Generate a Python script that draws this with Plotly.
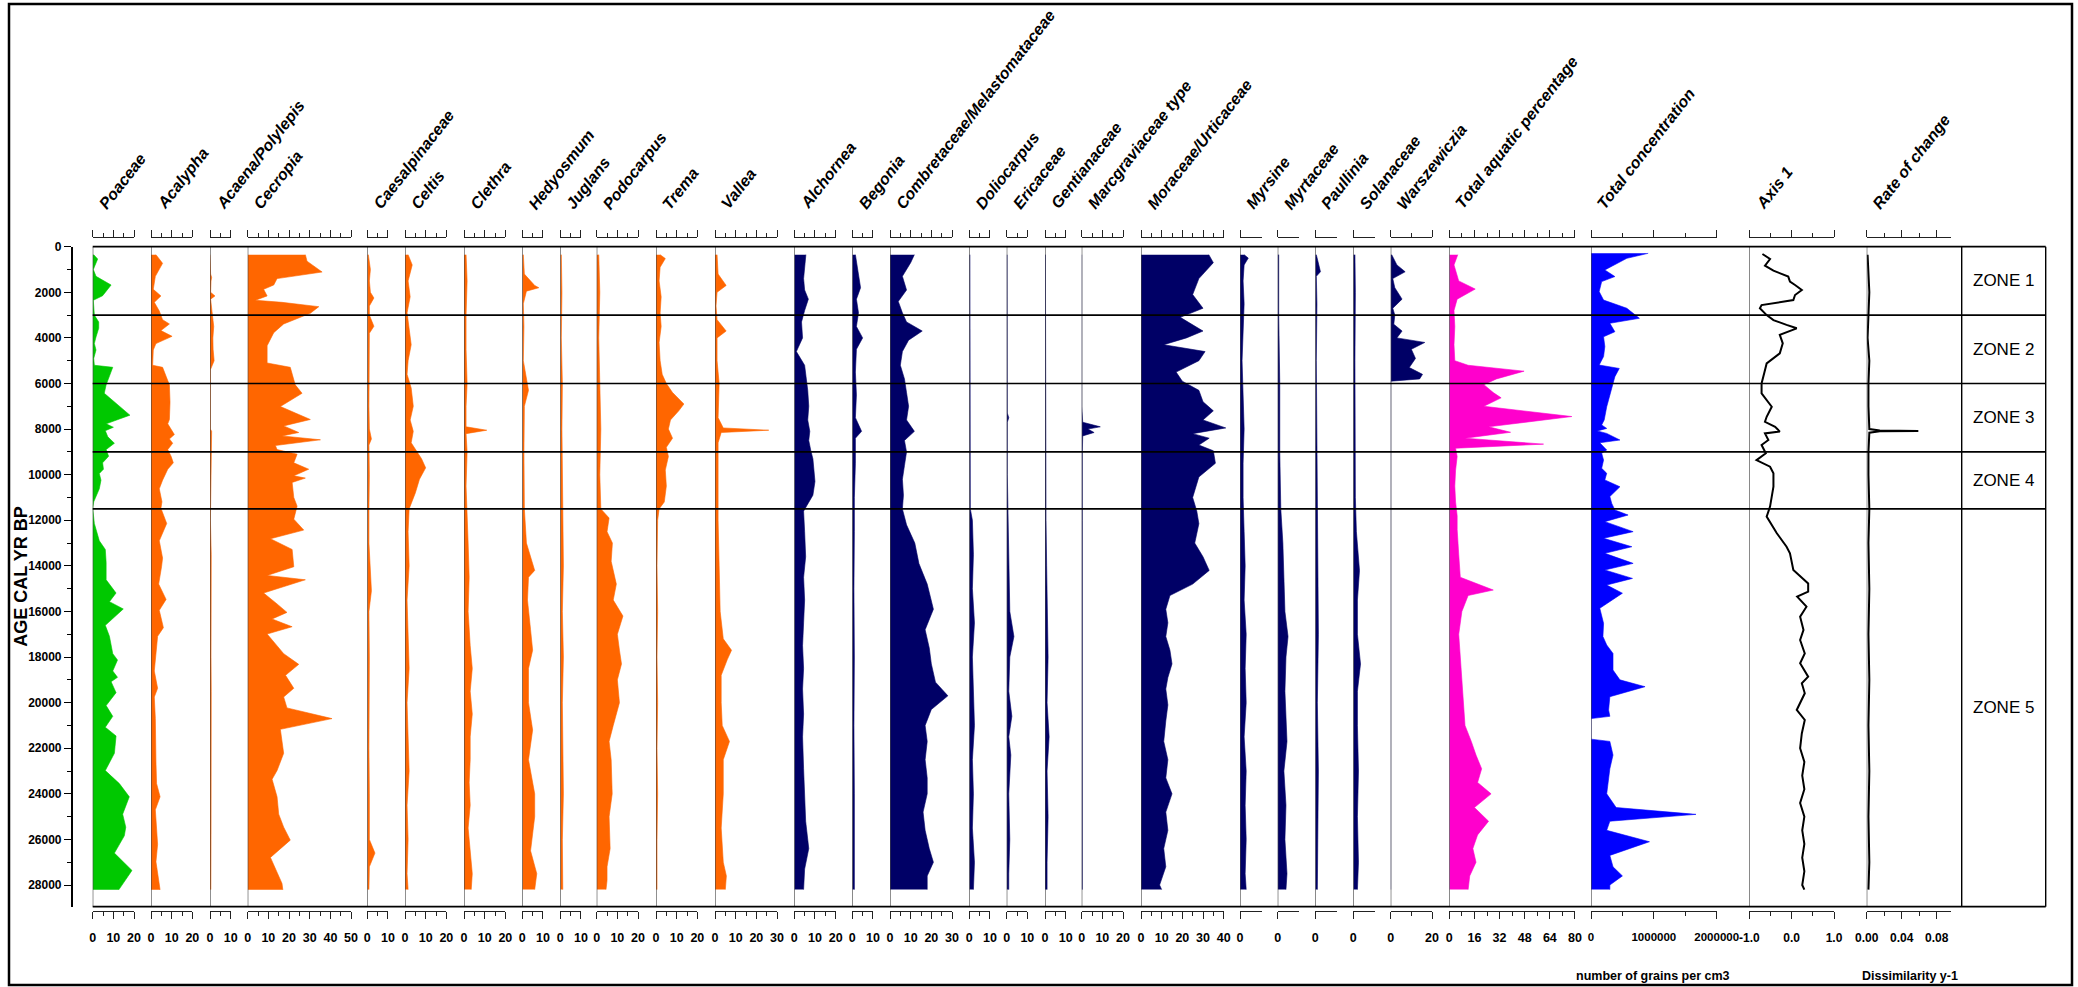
import plotly.graph_objects as go

# ---------------- data (ages in cal yr BP, pollen in %) ----------------
poaceae_age = [350, 540, 1000, 1300, 1680, 2150, 2350, 2600, 3000, 3300, 3580, 3960, 4250, 4530, 4900, 5200, 5290, 6060, 6430, 7390,
               7770, 7920, 8070, 8340, 8620, 8900, 9190, 9480, 9760, 9950, 10240, 10620, 11190, 11470, 12140, 12900, 13280, 13850, 14610, 15190,
               15570, 15890, 16610, 17090, 17850, 18130, 18610, 18890, 19080, 19560, 20130, 20600, 21080, 21460, 22220, 22980, 23550, 24130, 24890, 25460,
               25840, 26600, 27360, 28210]
poaceae = [0.5, 2.4, 0.3, 1.6, 8.9, 4.8, 0.3, 0.5, 0.8, 2.9, 2.9, 1.6, 0.8, 1.6, 0.5, 0.8, 9.7, 6.5, 5.6, 18,
           6.5, 10, 6.1, 7.3, 10.5, 6.5, 7.7, 4.8, 5.2, 3.2, 4, 3.2, 0.5, 0, 0.8, 3.2, 6.1, 6.5, 6.5, 11.3,
           8.1, 14.8, 6.1, 8.1, 9.7, 12, 9.7, 12, 8.9, 11.3, 6.5, 9.7, 6.1, 11.3, 10.5, 6.1, 12.9, 17.7, 14.5, 16,
           15.3, 10.5, 19, 12.6]

acalypha_age = [350, 730, 1300, 1870, 2160, 2440, 2820, 3200, 3390, 3680, 3930, 4250, 4530, 5200, 5290, 6060, 6820, 7580, 7770, 8240,
                8430, 8620, 8900, 9190, 9480, 9760, 10240, 10620, 11190, 11470, 12140, 12900, 13660, 14040, 14800, 15470, 15950, 16710, 17090, 17850,
                18610, 19370, 19750, 20700, 21650, 22600, 23550, 24130, 24700, 25460, 26220, 26980, 27740, 28210]
acalypha = [2.4, 5.6, 2.1, 1.1, 4.8, 1.6, 4, 5.6, 8.9, 4.8, 10.2, 2.4, 1.1, 0.8, 5.6, 8.9, 9.2, 8.9, 8.1, 11.3,
            8.9, 10.5, 8.1, 9.7, 10.8, 8.1, 5.6, 4, 5.3, 4.8, 7.6, 4, 5.6, 5.1, 3.7, 7.3, 4, 6, 3.2, 2.4,
            1.6, 3.2, 1.6, 2.1, 2.1, 2.4, 2.7, 4.4, 2.1, 2.7, 3.2, 2.4, 3.7, 4.4]

acaena_age = [350, 1200, 1350, 1500, 2000, 2160, 2300, 3200, 3500, 4000, 4500, 5000, 5200, 5400, 8000, 8100, 12000, 13500, 18000, 19500, 26000, 28200]
acaena = [0, 0.3, 0.8, 0.5, 0.3, 2.4, 0.3, 1.5, 1.8, 1.4, 1.5, 2.0, 1.0, 0.2, 0.2, 0.8, 0.2, 0.6, 0.5, 0.6, 0.5, 0.4]

cecropia_age = [350, 635, 1110, 1400, 1680, 1870, 2160, 2350, 2440, 2630, 2920, 3390, 3770, 4340, 5100, 5290, 6060, 6430, 7010, 7580,
                7860, 8150, 8300, 8470, 8720, 8900, 9100, 9480, 9760, 10050, 10150, 10340, 11000, 11380, 11950, 12430, 12810, 13280, 14040, 14420,
                14610, 15190, 15670, 16040, 16330, 16670, 16990, 17560, 17850, 18320, 18800, 19370, 19750, 20230, 20700, 21170, 21650, 22220, 22980, 23360,
                24130, 24890, 25460, 26030, 26790, 27930, 28210]
cecropia = [27.9, 28.7, 36, 14.2, 12.6, 7.7, 9.4, 3.7, 16.6, 34.4, 30.3, 17.4, 12.6, 9.4, 9.4, 20.6, 23, 26.3, 15.8, 30.3,
            17.4, 24.7, 16.6, 35.2, 13.4, 14.2, 23.9, 22.3, 29.5, 22.3, 27.9, 21.5, 22.3, 23.9, 22.3, 27.1, 11, 21.5, 22.3, 9.4,
            27.9, 7.7, 14.2, 19, 11.8, 21.5, 9.4, 15, 17.4, 24.7, 18.3, 22.3, 17.4, 19, 40.8, 15.8, 16.6, 17.4, 14.2, 11.8,
            14.2, 15, 17.4, 20.6, 11, 16.6, 17]

caesalpinaceae_age = [350, 1000, 1500, 2000, 2250, 2600, 3000, 3490, 3800, 5000, 6000, 7000, 8000, 8430, 8700, 10000, 11500, 13000, 15090, 16000,
                      18000, 20000, 22000, 24000, 26000, 26600, 27200, 28200]
caesalpinaceae = [0.5, 1.5, 1, 1.5, 3.2, 1, 1, 3.2, 1, 0.8, 0.8, 0.8, 1, 2, 0.8, 1, 0.8, 0.8, 2, 0.8,
                  1, 0.8, 0.8, 1, 1, 3.7, 1, 0.8]

celtis_age = [350, 800, 1500, 2200, 2900, 3500, 4300, 5000, 5600, 6200, 7000, 7600, 8100, 8600, 9000, 9300, 9700, 10200, 10800, 11500,
              12500, 14000, 15500, 17000, 18500, 20000, 21500, 23000, 24500, 26000, 27500, 28200]
celtis = [1.5, 3.5, 1.5, 2.5, 1, 2, 3, 1.5, 1, 3, 4, 2.5, 4, 3, 6, 8, 10, 7, 5, 2,
          1.5, 2, 1, 1.5, 2, 1, 1.5, 2, 1, 1.5, 1, 1.5]

clethra_age = [350, 1500, 3000, 4500, 6000, 7000, 7900, 8050, 8200, 9000, 10500, 11500, 13000, 14500, 16000, 17500, 18500, 19500, 20500, 21500,
               22500, 23500, 24500, 25500, 26500, 27500, 28200]
clethra = [1, 1.5, 1, 1, 1.5, 1, 1, 11, 1, 1.5, 1, 1.5, 2, 2.5, 2, 3, 4, 3, 4, 3,
           3, 2.5, 3, 2, 3, 4, 3.5]

hedyosmum_age = [350, 1200, 1700, 1800, 1950, 2500, 3500, 5000, 6300, 7000, 9000, 11500, 13000, 14200, 14500, 15500, 16800, 17700, 18500, 20000,
                 21200, 22500, 24000, 25000, 26500, 27500, 28200]
hedyosmum = [0.5, 1, 6, 8, 2, 0.5, 0.8, 0.5, 3, 1, 0.8, 1, 2, 6, 3, 2.5, 4, 5, 3, 3,
             5, 3, 6, 6, 4, 7, 6]

juglans_age = [350, 2000, 4000, 6000, 8000, 10000, 12000, 14000, 16000, 18000, 20000, 22000, 24000, 26000, 28200]
juglans = [0.5, 0.8, 0.5, 1, 0.8, 1, 1.2, 1.5, 1, 1.5, 1, 1.2, 1.5, 1, 1.2]

podocarpus_age = [350, 2000, 4000, 6000, 8000, 10000, 11500, 11900, 12500, 13000, 13800, 14800, 15500, 16200, 17000, 17700, 18300, 19000, 20000, 21000,
                  21700, 22500, 24000, 25000, 26400, 27200, 27800, 28200]
podocarpus = [1, 1.5, 1, 1.5, 2, 1.5, 2, 6, 5, 7.6, 7, 9.5, 8, 12.7, 10, 11, 12, 10, 11, 8,
              6, 7, 7.5, 6, 6.5, 5, 5, 4.5]

trema_age = [350, 520, 900, 1500, 2200, 2900, 3500, 4200, 5000, 5600, 6000, 6400, 6900, 7200, 7600, 8000, 8400, 8800, 9200, 9800,
             10500, 11200, 11500, 12000, 14000, 16000, 18000, 20000, 22000, 24000, 26000, 28200]
trema = [2, 4.5, 2, 1.5, 2.5, 2, 2.5, 1.5, 2, 3, 5, 8, 13.5, 11, 7, 6, 8, 5, 6, 4.5,
         5, 4, 1.5, 0.8, 0.5, 0.8, 0.5, 0.8, 0.5, 0.8, 0.5, 0.5]

vallea_age = [350, 1200, 1700, 2000, 2600, 3200, 3700, 4000, 5000, 6000, 7500, 7950, 8050, 8150, 8600, 10000, 12000, 14000, 16000, 17200,
              17700, 18100, 18800, 20000, 21000, 21700, 22500, 24000, 25500, 27000, 27600, 28200]
vallea = [1, 1.5, 5.4, 1, 0.5, 1, 5.4, 1, 1, 2, 1.5, 4, 26, 3, 1.5, 1.5, 1.5, 2, 2.5, 4,
          8, 6, 3, 3, 3.5, 7, 4, 4, 3, 4, 5.5, 5]

alchornea_age = [350, 900, 1400, 1900, 2300, 2800, 3300, 4000, 4600, 5200, 5800, 6300, 7000, 7600, 8100, 8500, 8950, 9300, 9800, 10300,
                 10900, 11600, 12500, 13600, 14500, 15500, 16500, 17500, 18500, 19400, 20500, 21500, 22900, 24000, 25200, 26400, 27300, 28200]
alchornea = [5.6, 5, 4.5, 5, 6.8, 5, 3.5, 4, 1, 5, 6, 6.5, 7, 6.5, 7.5, 7, 8, 9, 9.5, 10,
             9, 4.5, 5, 5.5, 4.5, 5, 4.5, 4, 4.5, 4, 4.5, 4, 4.5, 5, 5.5, 7, 5, 4.5]

begonia_age = [350, 1200, 1800, 2300, 2900, 3500, 4000, 4500, 5500, 6500, 7500, 8100, 8400, 9500, 11000, 12500, 15000, 18000, 21000, 24000,
               27000, 28200]
begonia = [1.5, 3, 4, 2, 3, 2, 5, 2, 1.5, 2, 1.5, 4.5, 1.5, 1.5, 1, 1, 0.8, 1, 0.8, 1,
           0.8, 1]

combretaceae_age = [350, 700, 1300, 1900, 2400, 2900, 3300, 3700, 4100, 4600, 5200, 5800, 6400, 7000, 7600, 8100, 8500, 9000, 9600, 10200,
                    10900, 11500, 12200, 13000, 13900, 14800, 15900, 16800, 17600, 18300, 19100, 19700, 20300, 21000, 21700, 22500, 23300, 24000, 24800, 25600,
                    26400, 27000, 27600, 28200]
combretaceae = [11.8, 10, 6, 8, 4, 6, 8, 15.6, 9, 6, 5, 7, 8, 9, 8, 11.8, 7, 8, 7, 6,
                6.5, 6, 8, 12, 14, 18, 21, 17, 19, 20, 22, 28, 20, 17, 18, 17, 18, 18, 16, 17,
                19, 21, 18, 18]

doliocarpus_age = [350, 3000, 6000, 9000, 11500, 12000, 13500, 15000, 16500, 18000, 19500, 21000, 22500, 24000, 25500, 27000, 28200]
doliocarpus = [0.3, 0.3, 0.3, 0.3, 0.5, 1.5, 2, 1.5, 2.5, 1.5, 2, 2.5, 1.5, 2, 1.5, 2.5, 2]

ericaceae_age = [350, 3000, 6000, 7300, 7500, 7700, 10000, 12000, 14000, 16000, 17100, 18000, 19500, 20600, 21500, 22300, 24000, 26000, 27500, 28200]
ericaceae = [0.2, 0.2, 0.3, 0.3, 1, 0.3, 0.3, 0.8, 1, 1.5, 3.5, 1.5, 1, 2.5, 1, 2, 1, 1.5, 1, 1]

gentianaceae_age = [350, 3000, 6000, 9000, 12000, 14000, 16000, 18000, 20000, 21500, 23000, 25000, 27000, 28200]
gentianaceae = [0.2, 0.2, 0.3, 0.3, 0.5, 0.8, 1, 1.5, 1, 2, 1, 1.5, 1, 1]

marcgraviaceae_age = [350, 7000, 7700, 7900, 8000, 8150, 8300, 9000, 12000, 18000, 24000, 28200]
marcgraviaceae = [0, 0, 0.5, 9, 3, 6, 0.5, 0.3, 0.3, 0.3, 0.3, 0.3]

moraceae_age = [350, 700, 1400, 2100, 2700, 3100, 3700, 4000, 4300, 4600, 5000, 5500, 5900, 6300, 6800, 7200, 7600, 7950, 8200, 8400,
                8700, 8950, 9500, 10100, 11000, 11600, 12150, 13000, 13600, 14200, 14800, 15300, 15900, 16500, 17100, 17700, 18300, 18900, 19400, 20100,
                20800, 21700, 22500, 23300, 24000, 24800, 25600, 26400, 27200, 28000, 28200]
moraceae = [32.8, 35, 28, 25, 30, 19, 30, 22, 11, 31, 28, 17, 20, 28, 30, 35, 30, 41, 25, 33,
            28, 35, 36, 28, 25, 27, 28, 26, 30, 33, 25, 14, 12, 13, 12, 14, 15, 13, 12, 13,
            12, 11, 13, 12, 15, 12, 13, 11, 12, 9, 10]

myrsine_age = [350, 500, 800, 1500, 2500, 3500, 5000, 6500, 8000, 9500, 11000, 12500, 14000, 15500, 17000, 18500, 20000, 21500, 23000, 24500,
               26000, 27500, 28200]
myrsine = [2, 4, 2, 1.5, 2, 1.5, 1, 1.5, 2, 1.5, 1.5, 2, 2.5, 2, 3, 2.5, 3, 2, 3, 2.5,
           3, 2.5, 3]

myrtaceae_age = [350, 3000, 6000, 9000, 11500, 13000, 14500, 16000, 17100, 18000, 19500, 20500, 21700, 23000, 24500, 26000, 27500, 28200]
myrtaceae = [0.5, 0.5, 1, 1, 1.5, 2.5, 3, 3.5, 5, 4, 3.5, 4, 4.5, 3, 4, 3.5, 4.5, 4]

paullinia_age = [350, 1100, 1300, 2500, 5000, 8000, 11000, 14000, 17000, 20000, 23000, 26000, 28200]
paullinia = [0.5, 2.5, 0.5, 0.8, 0.5, 0.8, 0.8, 1.2, 1.5, 1, 1.5, 1.2, 1]

solanaceae_age = [350, 2000, 5000, 8000, 11000, 12500, 14200, 15500, 17000, 18300, 19500, 21000, 23000, 25000, 27000, 28200]
solanaceae = [0.8, 1, 0.8, 1, 1, 1.5, 3, 2, 2, 3.5, 2, 2, 2.5, 2, 2.5, 2]

warszewiczia_age = [350, 800, 1100, 1400, 1800, 2300, 2700, 3000, 3400, 3700, 4000, 4200, 4500, 4900, 5300, 5600, 5800, 5900, 6500, 28200]
warszewiczia = [0.5, 3, 7, 1, 2, 5.5, 1, 2, 1.5, 5.5, 3, 16.5, 10, 12, 9, 15.4, 14, 0, 0, 0]

aquatic_age = [350, 800, 1500, 1860, 2300, 2800, 3500, 4300, 5000, 5200, 5460, 5800, 6050, 6400, 6630, 7000, 7450, 7900, 8140, 8400,
               8660, 8840, 9200, 9800, 10500, 11200, 11800, 12400, 13500, 14500, 15060, 15300, 16000, 17000, 18000, 19000, 20000, 21000, 21700, 22300,
               22900, 23500, 24000, 24600, 25200, 25800, 26400, 27000, 27600, 28200]
aquatic = [5.4, 3, 6, 16.5, 5, 3, 3.5, 3, 3.5, 12, 47.6, 30, 22, 28, 33, 22, 78, 25, 39, 10,
           60, 4, 5, 4, 3.5, 4, 5, 5, 6, 7, 28, 12, 8, 6, 7, 8, 9, 10, 14, 17,
           20.6, 18, 26.6, 16, 25, 18, 15, 17, 13, 12]

concentration_age = [290, 510, 1020, 1310, 1530, 1970, 2340, 2700, 3140, 3360, 3730, 3950, 4380, 4820, 5190, 5340, 5700, 6000, 6430, 7020,
                     7600, 7820, 7970, 8080, 8190, 8480, 8600, 8920, 9060, 9360, 9720, 9940, 10230, 10530, 10960, 11260, 11550, 11770, 12060, 12500,
                     12790, 13160, 13450, 13890, 14180, 14550, 14840, 15200, 15860, 16520, 17100, 17470, 17840, 18570, 19000, 19300, 19740, 20320, 20600, 20700,
                     21600, 21700, 22300, 22900, 24000, 24600, 24900, 25200, 25600, 26100, 26700, 27200, 27600, 28000, 28200]
concentration = [910000, 570000, 220000, 380000, 170000, 130000, 200000, 570000, 770000, 300000, 380000, 200000, 220000, 200000, 130000, 450000, 380000, 350000, 300000, 250000,
                 210000, 170000, 250000, 100000, 250000, 460000, 140000, 250000, 170000, 200000, 170000, 250000, 220000, 460000, 300000, 330000, 380000, 590000, 220000, 670000,
                 200000, 650000, 220000, 670000, 220000, 660000, 250000, 500000, 140000, 200000, 190000, 250000, 350000, 350000, 460000, 860000, 300000, 280000, 300000, 0,
                 0, 300000, 350000, 300000, 250000, 400000, 1670000, 300000, 250000, 930000, 300000, 350000, 500000, 300000, 300000]

axis1_age = [320, 540, 830, 1050, 1310, 1530, 1680, 1900, 2120, 2340, 2560, 2700, 3000, 3220, 3430, 3580, 3870, 4240, 4680, 5120,
             5560, 6000, 6430, 7020, 7460, 7680, 7900, 8110, 8190, 8480, 8700, 9060, 9360, 9650, 9940, 10530, 11400, 11840, 12570, 13160,
             13450, 14180, 14770, 15130, 15350, 15790, 16230, 16810, 17250, 17840, 18270, 18860, 19150, 19590, 20320, 20760, 21350, 22000, 22600, 23200,
             23800, 24400, 25000, 25600, 26200, 26800, 27400, 28000, 28200]
axis1 = [-0.69, -0.51, -0.63, -0.43, -0.08, -0.04, 0.08, 0.24, 0.08, 0.04, -0.71, -0.75, -0.59, -0.43, -0.12, 0.12, -0.28, -0.21, -0.28, -0.59,
         -0.65, -0.71, -0.71, -0.47, -0.59, -0.63, -0.39, -0.28, -0.63, -0.55, -0.71, -0.61, -0.83, -0.51, -0.43, -0.43, -0.51, -0.59, -0.35, -0.12,
         -0.04, 0.04, 0.39, 0.39, 0.13, 0.35, 0.2, 0.28, 0.2, 0.31, 0.2, 0.39, 0.24, 0.31, 0.12, 0.31, 0.24, 0.2, 0.3, 0.25,
         0.3, 0.2, 0.3, 0.25, 0.3, 0.25, 0.3, 0.25, 0.3]

roc_age = [350, 1000, 2000, 3000, 4000, 5000, 6000, 7000, 8000, 8060, 8080, 8100, 8160, 9000, 10000, 11500, 13000, 15000, 17000, 19000,
           21000, 23000, 25000, 27000, 28200]
roc = [0.001, 0.002, 0.003, 0.002, 0.001, 0.003, 0.002, 0.002, 0.003, 0.015, 0.059, 0.015, 0.003, 0.002, 0.002, 0.003, 0.002, 0.003, 0.002, 0.003,
       0.002, 0.003, 0.002, 0.003, 0.002]

zone_bounds = [3000, 6000, 9000, 11500]
zone_names = ["ZONE 1", "ZONE 2", "ZONE 3", "ZONE 4", "ZONE 5"]

# ---------------- page geometry (pixels) ----------------
W, H = 2078, 987
def fx(p):
    return p / W
def fy(p):
    return 1 - p / H

PLOT_TOP, PLOT_BOT = 246.7, 906.7
BR_TOP, BR_BOT = 238.3, 911.0
AGE_MAX = 28950
PLOT_LEFT, PLOT_RIGHT, ZONE_LEFT = 92.7, 2045.7, 1961.7
PCT = 2.067                      # px per percent

GREEN, ORANGE, NAVY, PINK, BLUE = "#00c800", "#ff6600", "#000066", "#ff00cc", "#0000ff"
SANS = "Liberation Sans, Arial, sans-serif"


def pct_ticks(top):
    major = list(range(0, top + 1, 10))
    minor = list(range(5, top, 10))
    return major, [str(v) for v in major], minor


cols = []
def add_pct(label, left, colour, ages, vals, top):
    mj, tt, mn = pct_ticks(top)
    cols.append(dict(label=label, left=left, colour=colour, ages=ages, vals=vals, kind="fill",
                     scale=PCT, x0=0, bend=top, major=mj, text=tt, minor=mn, fs=12.5))

def add_small(label, left, colour, ages, vals):
    cols.append(dict(label=label, left=left, colour=colour, ages=ages, vals=vals, kind="fill",
                     scale=PCT, x0=0, bend=10.5, major=[0], text=["0"], minor=[], fs=12.5))

add_pct("Poaceae", 92.7, GREEN, poaceae_age, poaceae, 20)
add_pct("Acalypha", 151.0, ORANGE, acalypha_age, acalypha, 20)
add_pct("Acaena/Polylepis", 210.0, ORANGE, acaena_age, acaena, 10)
add_pct("Cecropia", 247.7, ORANGE, cecropia_age, cecropia, 50)
add_pct("Caesalpinaceae", 367.3, ORANGE, caesalpinaceae_age, caesalpinaceae, 10)
add_pct("Celtis", 405.0, ORANGE, celtis_age, celtis, 20)
add_pct("Clethra", 464.0, ORANGE, clethra_age, clethra, 20)
add_pct("Hedyosmum", 522.3, ORANGE, hedyosmum_age, hedyosmum, 10)
add_pct("Juglans", 560.3, ORANGE, juglans_age, juglans, 10)
add_pct("Podocarpus", 596.7, ORANGE, podocarpus_age, podocarpus, 20)
add_pct("Trema", 656.0, ORANGE, trema_age, trema, 20)
add_pct("Vallea", 715.0, ORANGE, vallea_age, vallea, 30)
add_pct("Alchornea", 794.3, NAVY, alchornea_age, alchornea, 20)
add_pct("Begonia", 852.3, NAVY, begonia_age, begonia, 10)
add_pct("Combretaceae/Melastomataceae", 890.0, NAVY, combretaceae_age, combretaceae, 30)
add_pct("Doliocarpus", 969.3, NAVY, doliocarpus_age, doliocarpus, 10)
add_pct("Ericaceae", 1006.7, NAVY, ericaceae_age, ericaceae, 10)
add_pct("Gentianaceae", 1045.0, NAVY, gentianaceae_age, gentianaceae, 10)
add_pct("Marcgraviaceae type", 1081.7, NAVY, marcgraviaceae_age, marcgraviaceae, 20)
add_pct("Moraceae/Urticaceae", 1141.0, NAVY, moraceae_age, moraceae, 40)
add_small("Myrsine", 1240.0, NAVY, myrsine_age, myrsine)
add_small("Myrtaceae", 1277.7, NAVY, myrtaceae_age, myrtaceae)
add_small("Paullinia", 1315.3, NAVY, paullinia_age, paullinia)
add_small("Solanaceae", 1353.3, NAVY, solanaceae_age, solanaceae)
cols.append(dict(label="Warszewiczia", left=1390.7, colour=NAVY, ages=warszewiczia_age, vals=warszewiczia,
                 kind="fill", scale=PCT, x0=0, bend=20, major=[0, 20], text=["0", "20"], minor=[10], fs=12.5))
cols.append(dict(label="Total aquatic percentage", left=1449.3, colour=PINK, ages=aquatic_age, vals=aquatic,
                 kind="fill", scale=1.571, x0=0, bend=80, major=[0, 16, 32, 48, 64, 80],
                 text=["0", "16", "32", "48", "64", "80"], minor=[8, 24, 40, 56, 72], fs=12.5))
cols.append(dict(label="Total concentration", left=1591.0, colour=BLUE, ages=concentration_age, vals=concentration,
                 kind="fill", scale=62.85e-6, x0=0, bend=2000000, major=[0, 1000000, 2000000],
                 text=["0", "1000000", "2000000"], minor=[500000, 1500000], fs=11.5))
cols.append(dict(label="Axis 1", left=1749.3, colour="black", ages=axis1_age, vals=axis1,
                 kind="line", scale=42.35, x0=-1.0, bend=1.0, major=[-1.0, 0.0, 1.0],
                 text=["-1.0", "0.0", "1.0"], minor=[-0.5, 0.5], fs=12))
cols.append(dict(label="Rate of change", left=1866.7, colour="black", ages=roc_age, vals=roc,
                 kind="line", scale=875.0, x0=0.0, bend=0.096, major=[0.0, 0.04, 0.08],
                 text=["0.00", "0.04", "0.08"], minor=[0.02, 0.06], fs=12))

rights = [c["left"] for c in cols[1:]] + [ZONE_LEFT]
n = len(cols)

fig = go.Figure()
layout = dict(
    template="none",
    width=W, height=H, margin=dict(l=0, r=0, t=0, b=0, pad=0, autoexpand=False),
    paper_bgcolor="white", plot_bgcolor="rgba(0,0,0,0)", showlegend=False,
    yaxis=dict(domain=[fy(PLOT_BOT), fy(PLOT_TOP)], range=[AGE_MAX, 0], anchor="free", position=fx(71.7),
               automargin=False, showline=True, linecolor="black", linewidth=1.5, showgrid=False, zeroline=False,
               ticks="outside", ticklen=7, tickwidth=1.3, tickcolor="black",
               tickvals=list(range(0, 28001, 2000)), tickformat="d",
               minor=dict(tickvals=list(range(1000, 28000, 2000)), ticks="outside", ticklen=4,
                          tickwidth=1.2, tickcolor="black", showgrid=False),
               tickfont=dict(family=SANS, size=12, color="black", weight="bold")),
    yaxis2=dict(domain=[fy(BR_BOT), fy(BR_TOP)], range=[0, 1], anchor="free", position=0,
                visible=False, automargin=False),
)

shapes = []
annotations = []

for i, c in enumerate(cols):
    k = i + 1
    m = i + 1 + n
    left, right = c["left"], rights[i]
    xa = "xaxis" if k == 1 else f"xaxis{k}"
    xid = "x" if k == 1 else f"x{k}"
    span = (right - left) / c["scale"]
    layout[xa] = dict(domain=[fx(left), fx(right)], range=[c["x0"], c["x0"] + span], anchor="y",
                      visible=False, showgrid=False, zeroline=False, automargin=False)
    # scale bracket below the plot (with labels), mirrored above it
    bright = left + (c["bend"] - c["x0"]) * c["scale"]
    layout[f"xaxis{m}"] = dict(domain=[fx(left), fx(bright)], range=[c["x0"], c["bend"]], anchor="y2",
                               automargin=False, showline=True, linecolor="#222", linewidth=1.3, mirror="allticks",
                               ticks="outside", ticklen=7, tickwidth=1.3, tickcolor="#222",
                               tickvals=c["major"], ticktext=c["text"], showgrid=False, zeroline=False,
                               minor=dict(tickvals=c["minor"], ticks="outside", ticklen=4, tickwidth=1.3,
                                          tickcolor="#222", showgrid=False),
                               ticklabelstandoff=8,
                               tickfont=dict(family=SANS, size=c["fs"], color="black", weight="bold"))
    fig.add_trace(go.Scatter(x=[None], y=[None], xaxis=f"x{m}", yaxis="y2", hoverinfo="skip"))

    if c["kind"] == "fill":
        fig.add_trace(go.Scatter(x=c["vals"], y=c["ages"], xaxis=xid, yaxis="y", mode="lines",
                                 line=dict(color=c["colour"], width=0.6), fill="tozerox",
                                 fillcolor=c["colour"], hoverinfo="skip"))
    else:
        fig.add_trace(go.Scatter(x=c["vals"], y=c["ages"], xaxis=xid, yaxis="y", mode="lines",
                                 line=dict(color=c["colour"], width=2), hoverinfo="skip"))

    # panel base line
    shapes.append(dict(type="line", xref=xid, yref="y", x0=c["x0"], x1=c["x0"], y0=0, y1=AGE_MAX,
                       line=dict(color="#444", width=1.2), layer="above"))

    annotations.append(dict(text=c["label"], x=fx(left), y=fy(215), xref="paper", yref="paper",
                            xanchor="left", yanchor="bottom", textangle=-52, showarrow=False,
                            font=dict(family=SANS, size=16, color="black", weight="bold", style="italic")))

# zone boundaries across every column
for b in zone_bounds:
    shapes.append(dict(type="line", xref="paper", yref="y", x0=fx(PLOT_LEFT), x1=fx(PLOT_RIGHT), y0=b, y1=b,
                       line=dict(color="black", width=1.6), layer="above"))

edges = [0] + zone_bounds + [AGE_MAX]
for name, a, b in zip(zone_names, edges[:-1], edges[1:]):
    annotations.append(dict(text=name, x=fx((ZONE_LEFT + PLOT_RIGHT) / 2), y=(a + b) / 2, xref="paper", yref="y",
                            xanchor="center", yanchor="middle", showarrow=False,
                            font=dict(family=SANS, size=17, color="black")))

# plot frame and zone column
for y in (PLOT_TOP, PLOT_BOT):
    shapes.append(dict(type="line", xref="paper", yref="paper", x0=fx(PLOT_LEFT), x1=fx(PLOT_RIGHT),
                       y0=fy(y), y1=fy(y), line=dict(color="black", width=1.8)))
for x in (ZONE_LEFT, PLOT_RIGHT):
    shapes.append(dict(type="line", xref="paper", yref="paper", x0=fx(x), x1=fx(x),
                       y0=fy(PLOT_BOT), y1=fy(PLOT_TOP), line=dict(color="black", width=1.4)))
# outer border
shapes.append(dict(type="rect", xref="paper", yref="paper", x0=fx(9), x1=fx(2072), y0=fy(985), y1=fy(4),
                   line=dict(color="black", width=2.5)))

annotations.append(dict(text="AGE CAL YR BP", x=fx(21), y=fy((PLOT_TOP + PLOT_BOT) / 2), xref="paper", yref="paper",
                        xanchor="center", yanchor="middle", textangle=-90, showarrow=False,
                        font=dict(family=SANS, size=18, color="black", weight="bold")))
annotations.append(dict(text="number of grains per cm3", x=fx(1653), y=fy(976), xref="paper", yref="paper",
                        xanchor="center", yanchor="middle", showarrow=False,
                        font=dict(family=SANS, size=12.5, color="black", weight="bold")))
annotations.append(dict(text="Dissimilarity y-1", x=fx(1910), y=fy(976), xref="paper", yref="paper",
                        xanchor="center", yanchor="middle", showarrow=False,
                        font=dict(family=SANS, size=12.5, color="black", weight="bold")))

layout["shapes"] = shapes
layout["annotations"] = annotations
fig.update_layout(**layout)
fig.write_html("out.html")
